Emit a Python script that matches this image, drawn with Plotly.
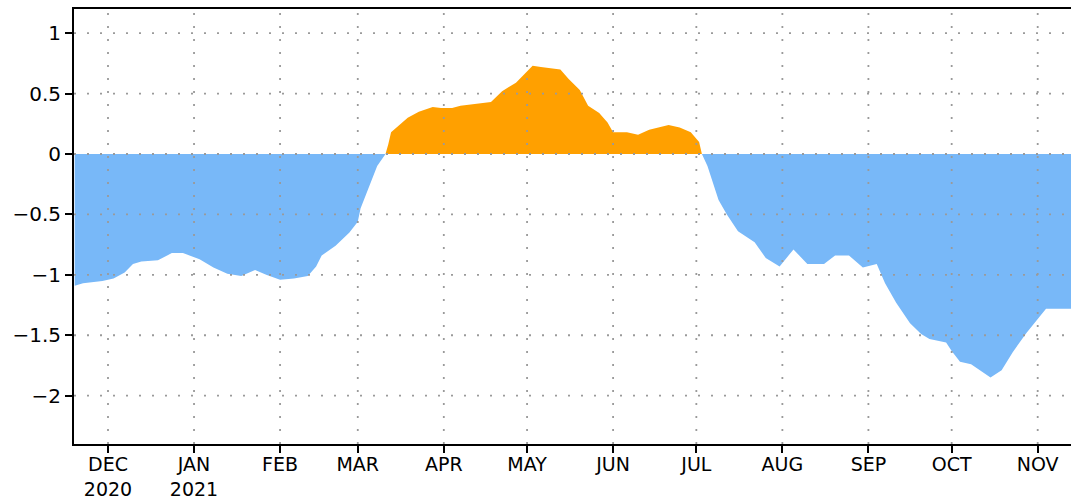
import plotly.graph_objects as go

dates = [
    "2020-11-19", "2020-11-22", "2020-11-29", "2020-12-03", "2020-12-07", "2020-12-10",
    "2020-12-13", "2020-12-19", "2020-12-24", "2020-12-28", "2021-01-03", "2021-01-08",
    "2021-01-13", "2021-01-18", "2021-01-23", "2021-01-27", "2021-02-01", "2021-02-06",
    "2021-02-11", "2021-02-14", "2021-02-16", "2021-02-21", "2021-02-26", "2021-03-01",
    "2021-03-02", "2021-03-05", "2021-03-08", "2021-03-11", "2021-03-12", "2021-03-13",
    "2021-03-16", "2021-03-19", "2021-03-23", "2021-03-28", "2021-03-31", "2021-04-04",
    "2021-04-07", "2021-04-14", "2021-04-18", "2021-04-22", "2021-04-27", "2021-04-30",
    "2021-05-03", "2021-05-06", "2021-05-10", "2021-05-13", "2021-05-16", "2021-05-20",
    "2021-05-23", "2021-05-27", "2021-05-30", "2021-06-01", "2021-06-06", "2021-06-10",
    "2021-06-14", "2021-06-18", "2021-06-21", "2021-06-25", "2021-06-29", "2021-07-02",
    "2021-07-03", "2021-07-05", "2021-07-09", "2021-07-12", "2021-07-16", "2021-07-22",
    "2021-07-26", "2021-07-31", "2021-08-03", "2021-08-05", "2021-08-10", "2021-08-16",
    "2021-08-20", "2021-08-25", "2021-08-30", "2021-09-04", "2021-09-07", "2021-09-11",
    "2021-09-16", "2021-09-20", "2021-09-23", "2021-09-29", "2021-10-01", "2021-10-04",
    "2021-10-08", "2021-10-15", "2021-10-19", "2021-10-23", "2021-10-28", "2021-10-31",
    "2021-11-04", "2021-11-13",
]
values = [
    -1.09, -1.07, -1.05, -1.03, -0.98, -0.91,
    -0.89, -0.88, -0.82, -0.82, -0.87, -0.94,
    -0.99, -1.01, -0.96, -1.00, -1.04, -1.03,
    -1.01, -0.93, -0.84, -0.76, -0.65, -0.56,
    -0.45, -0.27, -0.10, 0.0, 0.08, 0.18,
    0.24, 0.30, 0.35, 0.39, 0.38, 0.38,
    0.40, 0.42, 0.43, 0.52, 0.59, 0.66,
    0.73, 0.72, 0.71, 0.70, 0.62, 0.53,
    0.40, 0.34, 0.26, 0.18, 0.18, 0.16,
    0.20, 0.22, 0.24, 0.22, 0.18, 0.10,
    0.0, -0.10, -0.38, -0.50, -0.64, -0.73,
    -0.86, -0.93, -0.85, -0.79, -0.91, -0.91,
    -0.84, -0.84, -0.94, -0.91, -1.07, -1.23,
    -1.40, -1.49, -1.53, -1.56, -1.63, -1.72,
    -1.74, -1.85, -1.79, -1.64, -1.48, -1.39,
    -1.28, -1.28,
]

month_ticks = [
    "2020-12-01", "2021-01-01", "2021-02-01", "2021-03-01", "2021-04-01", "2021-05-01",
    "2021-06-01", "2021-07-01", "2021-08-01", "2021-09-01", "2021-10-01", "2021-11-01",
]
month_labels = ["DEC<br>2020", "JAN<br>2021", "FEB", "MAR", "APR", "MAY",
                "JUN", "JUL", "AUG", "SEP", "OCT", "NOV"]
y_ticks = [1, 0.5, 0, -0.5, -1, -1.5, -2]
y_labels = ["1", "0.5", "0", "\u22120.5", "\u22121", "\u22121.5", "\u22122"]

BLUE = "#78B8F8"
ORANGE = "#FFA000"

neg = [min(v, 0.0) for v in values]
pos = [max(v, 0.0) for v in values]

fig = go.Figure()
fig.add_trace(go.Scatter(x=dates, y=neg, mode="lines", line=dict(width=0, color=BLUE),
                         fill="tozeroy", fillcolor=BLUE, hoverinfo="skip", showlegend=False))
fig.add_trace(go.Scatter(x=dates, y=pos, mode="lines", line=dict(width=0, color=ORANGE),
                         fill="tozeroy", fillcolor=ORANGE, hoverinfo="skip", showlegend=False))

grid_style = dict(color="#9a9a9a", width=1.8, dash="2px,11px")
shapes = []
for d in month_ticks:
    shapes.append(dict(type="line", xref="x", yref="y domain", x0=d, x1=d, y0=0, y1=1,
                       line=grid_style, layer="above"))
for yv in y_ticks:
    shapes.append(dict(type="line", xref="x domain", yref="y", x0=0, x1=1, y0=yv, y1=yv,
                       line=grid_style, layer="above"))

fig.update_layout(
    width=1071, height=498,
    margin=dict(l=74, r=0, t=9, b=54),
    paper_bgcolor="white", plot_bgcolor="white",
    font=dict(family="DejaVu Sans", size=19, color="black"),
    shapes=shapes,
    xaxis=dict(
        range=["2020-11-18 18:00", "2021-11-13"],
        tickmode="array", tickvals=month_ticks, ticktext=month_labels,
        showgrid=False, zeroline=False, automargin=False,
        showline=True, linecolor="black", linewidth=2, mirror=True,
        ticks="outside", ticklen=7, tickwidth=1.5, tickcolor="black",
        ticklabelstandoff=-5,
        tickfont=dict(family="DejaVu Sans", size=19, color="black"),
    ),
    yaxis=dict(
        range=[-2.4, 1.2],
        tickmode="array", tickvals=y_ticks, ticktext=y_labels,
        showgrid=False, zeroline=False, automargin=False,
        showline=True, linecolor="black", linewidth=2, mirror=False,
        ticks="outside", ticklen=7, tickwidth=1.5, tickcolor="black",
        tickfont=dict(family="DejaVu Sans", size=20, color="black"),
    ),
)

fig.write_html("out.html", config={"displayModeBar": False},
               post_script="document.body.style.margin='0';document.body.style.overflow='hidden';")
